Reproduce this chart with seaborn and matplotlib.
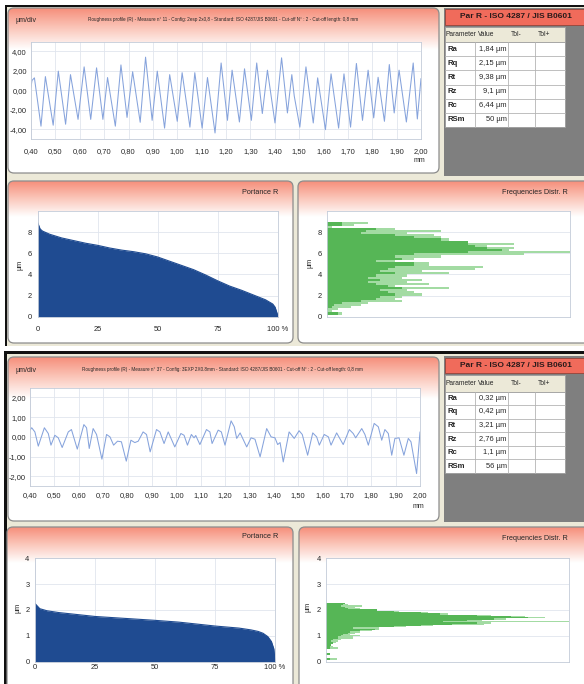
import numpy as np
import matplotlib
matplotlib.use("Agg")
import matplotlib.pyplot as plt
import seaborn as sns
from matplotlib.patches import FancyBboxPatch, Rectangle
from matplotlib.colors import LinearSegmentedColormap
from matplotlib import font_manager as fm

# ---------------- data ----------------
TITLE1 = "Roughness profile (R) - Measure n° 11 - Config: 2esp 2x0,8 - Standard: ISO 4287/JIS B0601 - Cut-off N° : 2 - Cut-off length: 0,8 mm"
TITLE2 = "Roughness profile (R) - Measure n° 37 - Config: 3EXP 2X0.8mm - Standard: ISO 4287/JIS B0601 - Cut-off N° : 2 - Cut-off length: 0,8 mm"
TABLE_TITLE = "Par R - ISO 4287 / JIS B0601"
table_cols = ["Parameter", "Value", "Tol-", "Tol+"]
params = ["Ra", "Rq", "Rt", "Rz", "Rc", "RSm"]
values1 = ["1,84 µm", "2,15 µm", "9,38 µm", "9,1 µm", "6,44 µm", "50 µm"]
values2 = ["0,32 µm", "0,42 µm", "3,21 µm", "2,76 µm", "1,1 µm", "56 µm"]

prof_xticks = [0.40, 0.50, 0.60, 0.70, 0.80, 0.90, 1.00, 1.10, 1.20, 1.30, 1.40,
               1.50, 1.60, 1.70, 1.80, 1.90, 2.00]
prof_xlabels = ["0,40", "0,50", "0,60", "0,70", "0,80", "0,90", "1,00", "1,10", "1,20",
                "1,30", "1,40", "1,50", "1,60", "1,70", "1,80", "1,90", "2,00"]
prof1_yticks = [-4, -2, 0, 2, 4]
prof1_ylabels = ["-4,00", "-2,00", "0,00", "2,00", "4,00"]
prof2_yticks = [-2, -1, 0, 1, 2]
prof2_ylabels = ["-2,00", "-1,00", "0,00", "1,00", "2,00"]

# profile 1 (mm, µm)
p1_x = [0.400, 0.404, 0.414, 0.441, 0.459, 0.491, 0.512, 0.542, 0.562, 0.593,
        0.618, 0.645, 0.669, 0.695, 0.714, 0.746, 0.769, 0.794, 0.817, 0.848,
        0.870, 0.897, 0.918, 0.948, 0.969, 1.000, 1.020, 1.052, 1.072, 1.102,
        1.124, 1.155, 1.180, 1.206, 1.225, 1.255, 1.276, 1.304, 1.326, 1.349,
        1.370, 1.401, 1.428, 1.452, 1.470, 1.480, 1.503, 1.528, 1.558, 1.576,
        1.608, 1.631, 1.662, 1.684, 1.711, 1.735, 1.760, 1.783, 1.806, 1.824,
        1.850, 1.870, 1.890, 1.910, 1.940, 1.968, 1.985, 2.000]
p1_y = [0.3, 1.0, 1.27, -3.7, 1.4, -3.6, 1.96, -3.5, 1.6, -3.0,
        2.4, -3.0, 2.3, -3.0, 1.3, -3.7, 2.6, -2.8, 1.9, -3.3,
        3.4, -3.1, 1.96, -3.9, 1.6, -3.2, 1.8, -3.8, 1.8, -3.9,
        1.3, -4.4, 2.8, -3.1, 2.06, -3.27, 2.2, -3.1, 2.8, -2.4,
        2.06, -3.37, 3.33, -2.34, 1.6, -0.6, -3.8, 2.4, -3.37, 1.27,
        -4.06, 1.68, -3.9, 1.68, -3.8, 2.75, -3.1, 2.06, -2.85, 1.33,
        -3.2, 2.64, -2.34, 2.06, -3.27, 2.8, -2.96, 1.2]

# profile 2 (mm, µm)
p2_x = [0.400, 0.407, 0.420, 0.434, 0.459, 0.475, 0.486, 0.502, 0.516, 0.532,
        0.557, 0.570, 0.594, 0.621, 0.632, 0.643, 0.659, 0.673, 0.695, 0.714,
        0.728, 0.743, 0.759, 0.775, 0.795, 0.814, 0.830, 0.844, 0.864, 0.878,
        0.893, 0.919, 0.933, 0.950, 0.967, 0.994, 1.019, 1.032, 1.046, 1.062,
        1.073, 1.080, 1.097, 1.124, 1.138, 1.147, 1.172, 1.185, 1.200, 1.225,
        1.238, 1.248, 1.262, 1.289, 1.307, 1.323, 1.344, 1.371, 1.389, 1.405,
        1.416, 1.426, 1.439, 1.463, 1.484, 1.504, 1.517, 1.539, 1.560, 1.576,
        1.587, 1.607, 1.624, 1.635, 1.658, 1.685, 1.710, 1.726, 1.736, 1.761,
        1.774, 1.788, 1.812, 1.829, 1.843, 1.856, 1.870, 1.884, 1.897, 1.914,
        1.934, 1.952, 1.963, 1.986, 2.000]
p2_y = [0.34, 0.46, 0.25, -0.47, 0.46, 0.17, -0.42, 0.08, -0.05, -0.54,
        0.25, 0.37, -0.62, 0.62, 0.46, -0.59, 0.42, 0.12, -1.13, 0.12,
        0.0, -0.42, -0.22, -0.25, -1.23, -0.17, -0.29, -0.22, 0.25, 0.12,
        -0.76, 0.37, 0.25, -0.34, 0.25, -0.51, 0.17, 0.08, -0.42, 0.12,
        -0.05, 0.07, -0.39, 0.37, 0.25, -0.34, 0.34, 0.25, -0.42, 0.81,
        0.51, -0.08, 0.20, -0.51, -0.05, -0.12, -1.01, 0.42, 0.0, -0.05,
        -0.39, -0.29, -1.27, 0.25, -0.08, 0.31, 0.12, -0.93, 0.20, 0.0,
        -0.42, 0.12, 0.0, -0.42, 0.20, -0.39, 0.37, 0.17, -0.05, 0.42,
        0.12, -0.42, 0.68, 0.51, -0.17, 0.37, 0.17, -0.93, -0.08, -0.05,
        -0.93, -0.08, -0.25, -1.86, 0.25]

# bearing (Abbott) curves: % of length, height µm
ab1_pct = [0, 0.5, 1, 2, 5, 10, 15, 20, 25, 30, 35, 40, 45, 50, 55, 60, 65, 70,
           75, 80, 85, 90, 95, 98, 99, 100]
ab1_h = [8.9, 8.6, 8.3, 8.1, 7.8, 7.45, 7.2, 6.95, 6.75, 6.5, 6.3, 6.15, 5.95,
         5.65, 5.25, 4.85, 4.45, 3.95, 3.4, 2.9, 2.5, 2.05, 1.6, 1.2, 0.9, 0.2]
ab2_pct = [0, 1, 2, 5, 10, 15, 25, 35, 50, 60, 75, 85, 90, 93, 95, 97, 98.5, 99.5, 100]
ab2_h = [2.25, 2.15, 2.05, 1.97, 1.9, 1.85, 1.75, 1.69, 1.6, 1.53, 1.38, 1.3,
         1.23, 1.17, 1.1, 0.97, 0.78, 0.5, 0.05]
portance_xticks = [0, 25, 50, 75, 100]
portance_xlabels = ["0", "25", "50", "75", "100 %"]

# frequency distributions: bin height µm, dark and light bar lengths (% of width)
f1_h = [8.9, 8.7, 8.5, 8.3, 8.1, 7.9, 7.7, 7.5, 7.3, 7.1, 6.9, 6.7, 6.5, 6.3, 6.1,
        5.9, 5.7, 5.5, 5.3, 5.1, 4.9, 4.7, 4.5, 4.3, 4.1, 3.9, 3.7, 3.5, 3.3, 3.1,
        2.9, 2.7, 2.5, 2.3, 2.1, 1.9, 1.7, 1.5, 1.3, 1.1, 0.9, 0.7, 0.5, 0.3, 0.1]
f1_dark = [6, 6, 0, 20, 16, 14, 28, 36, 47, 58, 58, 61, 66, 72, 58,
           36, 28, 31, 20, 36, 36, 28, 25, 22, 28, 20, 17, 22, 17, 20,
           25, 31, 22, 25, 28, 22, 20, 14, 6, 3, 2, 0.5, 0, 4.5, 0]
f1_light = [17, 11, 2, 28, 47, 33, 44, 47, 50, 58, 77, 66, 77, 75, 100,
            81, 47, 36, 28, 42, 42, 64, 61, 39, 50, 33, 31, 39, 33, 42,
            28, 50, 33, 36, 39, 31, 28, 31, 17, 14, 10, 4.5, 2, 6, 0]
f2_h = [2.25, 2.2, 2.15, 2.1, 2.05, 2.0, 1.95, 1.9, 1.85, 1.8, 1.75, 1.7, 1.65,
        1.6, 1.55, 1.5, 1.45, 1.4, 1.35, 1.3, 1.25, 1.2, 1.15, 1.1, 1.05, 1.0,
        0.95, 0.9, 0.85, 0.8, 0.75, 0.7, 0.65, 0.6, 0.55, 0.5, 0.45, 0.4, 0.35,
        0.3, 0.25, 0.2, 0.15, 0.1, 0.05]
f2_dark = [7.8, 7, 6, 8, 9, 21, 28, 39, 47, 62, 76, 83, 69, 58, 48, 62, 52, 39,
           28, 11, 20, 14, 10, 9, 7, 6, 5, 5, 3, 2, 3, 3, 2, 1.5, 1.5, 1.5, 0,
           0, 0, 1.5, 0, 0, 0, 1.5, 0]
f2_light = [7.8, 9, 15, 12, 14, 21, 30, 42, 50, 68, 82, 90, 74, 64, 100, 68, 65,
            44, 33, 22, 22, 19, 14, 12, 10, 14, 11, 11, 6, 5, 4, 3, 2, 3, 5, 5,
            0, 0, 0, 1.5, 0, 0, 0, 4.5, 0]

# ---------------- style ----------------
W, H = 584, 684
sns.set_theme(style="white")
names = {f.name for f in fm.fontManager.ttflist}
if "Liberation Sans Narrow" in names:
    FONT = "Liberation Sans Narrow"
elif "DejaVu Sans Condensed" in names:
    FONT = "DejaVu Sans Condensed"
else:
    FONT = "Liberation Sans"
plt.rcParams["font.family"] = [FONT, "DejaVu Sans"]

BEIGE = "#ece9d8"
LINE = "#86a3dc"
NAVY = "#1f4b91"
G_DARK = "#56b656"
G_LIGHT = "#a3dba3"
TXT = "#262626"

fig = plt.figure(figsize=(W / 100, H / 100), dpi=100, facecolor=BEIGE)
bg = fig.add_axes([0, 0, 1, 1], zorder=0)
bg.set_facecolor(BEIGE)
bg.axis("off")
grad_cmap = LinearSegmentedColormap.from_list("hdr", ["#f68f7b", "#fbc9bd", "#ffffff"])


def box(x0, y0, x1, y1):
    return [x0 / W, 1 - y1 / H, (x1 - x0) / W, (y1 - y0) / H]


def panel(x0, y0, x1, y1, gh):
    p = FancyBboxPatch((x0, y0), x1 - x0, y1 - y0,
                       boxstyle="round,pad=0,rounding_size=6",
                       fc="white", ec="none", zorder=1)
    bg.add_patch(p)
    grad = np.linspace(0, 1, 80)[:, None]
    im = bg.imshow(grad, extent=[x0, x1, y0 + gh, y0], cmap=grad_cmap,
                   aspect="auto", zorder=1.5, interpolation="bilinear")
    im.set_clip_path(p)
    bg.add_patch(FancyBboxPatch((x0, y0), x1 - x0, y1 - y0,
                                boxstyle="round,pad=0,rounding_size=6",
                                fc="none", ec="#8c8c8c", lw=0.9, zorder=2))


def table(y0, y1, hy0, hy1, ty0, ty1, hrow, vals):
    bg.add_patch(Rectangle((444, y0), 140, y1 - y0, fc="#7f7f7f", ec="none", zorder=1))
    bg.add_patch(Rectangle((444.5, hy0), 139, hy1 - hy0, fc="#f06b5b",
                           ec="#9a4a40", lw=0.7, zorder=2))
    bg.text(516, (hy0 + hy1) / 2, TABLE_TITLE, ha="center", va="center",
            fontsize=6.0, fontweight="bold", color="#2a1a1a", zorder=3)
    cols = [445, 475, 508, 535, 565]
    bg.add_patch(Rectangle((cols[0], ty0), cols[-1] - cols[0], ty1 - ty0,
                           fc="white", ec="#9a9a9a", lw=0.6, zorder=2))
    bg.add_patch(Rectangle((cols[0], ty0), cols[-1] - cols[0], hrow,
                           fc=BEIGE, ec="#9a9a9a", lw=0.6, zorder=2))
    rh = (ty1 - ty0 - hrow) / len(params)
    for c in cols[1:-1]:
        bg.plot([c, c], [ty0 + hrow, ty1], color="#b4b4b4", lw=0.6, zorder=3)
    for i in range(1, len(params)):
        yy = ty0 + hrow + i * rh
        bg.plot([cols[0], cols[-1]], [yy, yy], color="#b4b4b4", lw=0.6, zorder=3)
    hx = [446, 478, 511, 538]
    for x, name in zip(hx, table_cols):
        bg.text(x, ty0 + hrow / 2, name, ha="left", va="center", fontsize=4.8,
                color=TXT, zorder=4)
    for i, (pname, v) in enumerate(zip(params, vals)):
        yc = ty0 + hrow + (i + 0.5) * rh
        bg.text(447, yc, pname, ha="left", va="center", fontsize=5.6,
                fontweight="bold", color=TXT, zorder=4)
        bg.text(506.5, yc, v, ha="right", va="center", fontsize=5.4,
                color=TXT, zorder=4)


# screenshot frames
bg.add_patch(Rectangle((0, 0), W, 5, fc="white", ec="none", zorder=0.5))
bg.add_patch(Rectangle((0, 0), 5, H, fc="white", ec="none", zorder=0.5))
bg.add_patch(Rectangle((5, 5), W, 2, fc="#111111", ec="none", zorder=0.6))
bg.add_patch(Rectangle((5, 5), 2, 341, fc="#111111", ec="none", zorder=0.6))
bg.add_patch(Rectangle((0, 346), W, 5, fc="white", ec="none", zorder=0.5))
bg.add_patch(Rectangle((4, 351), W, 3, fc="#111111", ec="none", zorder=0.6))
bg.add_patch(Rectangle((4, 351), 2.5, H, fc="#111111", ec="none", zorder=0.6))

# panels
panel(8, 8, 439, 173, 42)
panel(8, 181, 293, 343, 36)
panel(298, 181, 594, 343, 36)
panel(8, 357, 439, 521, 42)
panel(7, 527, 293, 700, 36)
panel(299, 527, 594, 700, 36)
table(8, 176, 9, 25, 27, 127, 15, values1)
table(356, 522, 358, 373, 375, 473, 16.5, values2)

# panel texts
t1 = bg.text(88, 20, TITLE1, ha="left", va="center", fontsize=5, color=TXT, zorder=4)
t2 = bg.text(82, 370, TITLE2, ha="left", va="center", fontsize=5, color=TXT, zorder=4)
bg.text(15, 20, "µm/div", ha="left", va="center", fontsize=5.0, color=TXT, zorder=4)
bg.text(15, 370, "µm/div", ha="left", va="center", fontsize=5.0, color=TXT, zorder=4)
bg.text(419, 160, "mm", ha="center", va="center", fontsize=5.0, color=TXT, zorder=4)
bg.text(418, 507, "mm", ha="center", va="center", fontsize=5.0, color=TXT, zorder=4)
bg.text(278, 192, "Portance R", ha="right", va="center", fontsize=5.2, color=TXT, zorder=4)
bg.text(568, 193, "Frequencies Distr. R", ha="right", va="center", fontsize=5.2, color=TXT, zorder=4)
bg.text(278, 537, "Portance R", ha="right", va="center", fontsize=5.2, color=TXT, zorder=4)
bg.text(568, 538, "Frequencies Distr. R", ha="right", va="center", fontsize=5.2, color=TXT, zorder=4)
for (x, y) in [(20, 265), (310, 263), (18, 608), (308, 607)]:
    bg.text(x, y, "µm", ha="center", va="center", rotation=90, fontsize=5.2,
            color=TXT, zorder=4)

bg.set_xlim(0, W)
bg.set_ylim(H, 0)

# fit title widths
renderer = fig.canvas.get_renderer()
for t, wpx in [(t1, 277), (t2, 285)]:
    bb = t.get_window_extent(renderer=renderer)
    t.set_fontsize(t.get_fontsize() * wpx / bb.width)


def data_ax(b, xpad, ypad):
    ax = fig.add_axes(box(*b), zorder=5)
    ax.set_facecolor("white")
    for s in ax.spines.values():
        s.set_color("#c3cbd8")
        s.set_linewidth(0.6)
    ax.tick_params(axis="both", length=0, labelsize=5.4, colors=TXT)
    ax.tick_params(axis="x", pad=xpad)
    ax.tick_params(axis="y", pad=ypad)
    ax.grid(True, color="#e0e5ee", linewidth=0.6)
    ax.set_axisbelow(True)
    return ax


def finish(ax):
    ax.set_xlabel("")
    ax.set_ylabel("")
    leg = ax.get_legend()
    if leg is not None:
        leg.remove()


# ---- profile 1
ax = data_ax((31, 41.6, 421, 138.8), 6.5, 3)
sns.lineplot(x=p1_x, y=p1_y, ax=ax, color=LINE, linewidth=0.75, sort=False, estimator=None)
ax.set_xlim(0.40, 2.00)
ax.set_ylim(-5, 5)
ax.set_xticks(prof_xticks, prof_xlabels)
ax.set_yticks(prof1_yticks, prof1_ylabels)
finish(ax)

# ---- portance 1
ax = data_ax((37.7, 211, 277.5, 316.7), 6.5, 4)
sns.lineplot(x=ab1_pct, y=ab1_h, ax=ax, color=NAVY, linewidth=0.8, sort=False, estimator=None)
ax.fill_between(ab1_pct, ab1_h, 0, color=NAVY, linewidth=0)
ax.set_xlim(0, 100)
ax.set_ylim(0, 10)
ax.set_xticks(portance_xticks, portance_xlabels)
ax.set_yticks([0, 2, 4, 6, 8])
finish(ax)

# ---- freq 1
ax = data_ax((327, 211, 570, 316.7), 2, 3.5)
sns.barplot(x=f1_light, y=f1_h, orient="y", native_scale=True, ax=ax, color=G_LIGHT,
            saturation=1, width=1, errorbar=None, linewidth=0)
sns.barplot(x=f1_dark, y=f1_h, orient="y", native_scale=True, ax=ax, color=G_DARK,
            saturation=1, width=1, errorbar=None, linewidth=0)
ax.set_xlim(0, 100)
ax.set_ylim(0, 10)
ax.set_xticks([])
ax.set_yticks([0, 2, 4, 6, 8])
ax.xaxis.grid(False)
finish(ax)

# ---- profile 2
ax = data_ax((30, 387.5, 420, 486.2), 4, 3)
sns.lineplot(x=p2_x, y=p2_y, ax=ax, color=LINE, linewidth=0.75, sort=False, estimator=None)
ax.set_xlim(0.40, 2.00)
ax.set_ylim(-2.5, 2.5)
ax.set_xticks(prof_xticks, prof_xlabels)
ax.set_yticks(prof2_yticks, prof2_ylabels)
finish(ax)

# ---- portance 2
ax = data_ax((35, 558.3, 275, 661.7), 2, 4)
sns.lineplot(x=ab2_pct, y=ab2_h, ax=ax, color=NAVY, linewidth=0.8, sort=False, estimator=None)
ax.fill_between(ab2_pct, ab2_h, 0, color=NAVY, linewidth=0)
ax.set_xlim(0, 100)
ax.set_ylim(0, 4)
ax.set_xticks(portance_xticks, portance_xlabels)
ax.set_yticks([0, 1, 2, 3, 4])
finish(ax)

# ---- freq 2
ax = data_ax((326, 558.3, 569, 661.7), 2, 3.5)
sns.barplot(x=f2_light, y=f2_h, orient="y", native_scale=True, ax=ax, color=G_LIGHT,
            saturation=1, width=1, errorbar=None, linewidth=0)
sns.barplot(x=f2_dark, y=f2_h, orient="y", native_scale=True, ax=ax, color=G_DARK,
            saturation=1, width=1, errorbar=None, linewidth=0)
ax.set_xlim(0, 100)
ax.set_ylim(0, 4)
ax.set_xticks([])
ax.set_yticks([0, 1, 2, 3, 4])
ax.xaxis.grid(False)
finish(ax)

fig.savefig("out.png", dpi=100, facecolor=BEIGE)
